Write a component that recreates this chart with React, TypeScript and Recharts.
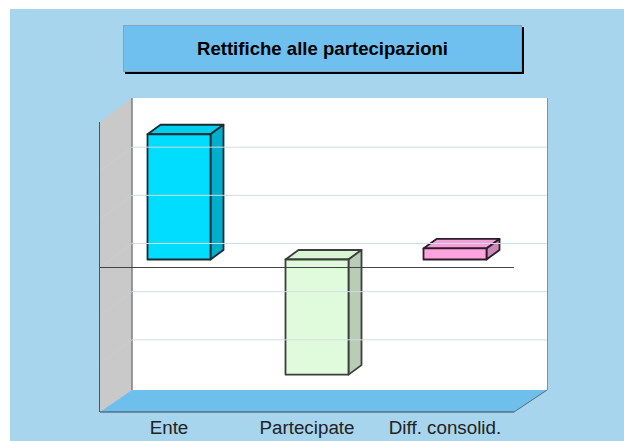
import React from 'react';
import { BarChart, Bar, XAxis, YAxis, ReferenceLine } from 'recharts';

const categories = ['Ente', 'Partecipate', 'Diff. consolid.'];
const values = [2.6, -2.39, 0.23];
const yTicks = [-3, -2, -1, 0, 1, 2, 3];
const gridValues = [-2, -1, 0, 1, 2];

const faceColors = [
  { front: '#00ddff', top: '#00cfee', side: '#00afcc', edge: '#1c2a33' },
  { front: '#e0fbdc', top: '#d8f5d4', side: '#b8ccb6', edge: '#3a3f3a' },
  { front: '#ffa3de', top: '#f59fd8', side: '#cc88b8', edge: '#2a1c28' },
];

const chartData = categories.map((name, i) => ({ name, value: values[i] }));

// bars sit halfway back in the room
const barShiftX = 9.5;
const barShiftY = -8;
const depthX = 13;
const depthY = -9.5;
// back wall offset from the front plane
const wallX = 32;
const wallY = -24;

const Box3D = (props: any) => {
  const { x, y, width, height, index } = props;
  const c = faceColors[index];
  const left = x + barShiftX;
  const right = left + width;
  const top = Math.min(y, y + height) + barShiftY;
  const bottom = Math.max(y, y + height) + barShiftY;
  return (
    <g strokeWidth={1.8} stroke={c.edge} strokeLinejoin="round">
      <polygon
        fill={c.top}
        points={`${left},${top} ${left + depthX},${top + depthY} ${right + depthX},${top + depthY} ${right},${top}`}
      />
      <polygon
        fill={c.side}
        points={`${right},${top} ${right + depthX},${top + depthY} ${right + depthX},${bottom + depthY} ${right},${bottom}`}
      />
      <rect x={left} y={top} width={width} height={bottom - top} fill={c.front} />
    </g>
  );
};

const WallGridLine = (props: any) => {
  const { x1, y1, x2, y2 } = props;
  return (
    <g>
      <line x1={x1} y1={y1} x2={x1 + wallX} y2={y1 + wallY} stroke="#cdcdd2" strokeWidth={1} />
      <line x1={x1 + wallX} y1={y1 + wallY} x2={x2 + wallX + 1} y2={y2 + wallY} stroke="#cfdde4" strokeWidth={1} />
    </g>
  );
};

const Room = () => (
  <svg width={624} height={441} style={{ position: 'absolute', left: 0, top: 0 }}>
    <polygon points="132,98 547,98 547,390 132,390" fill="#ffffff" />
    <polygon points="100,122 132,98 132,390 100,412" fill="#c9c9c9" />
    <polygon points="100,412 132,390 547,390 514,412" fill="#6fbfec" />
    <line x1={99.5} y1={122} x2={99.5} y2={412} stroke="#4a5560" strokeWidth={1} />
    <line x1={132} y1={98} x2={132} y2={390} stroke="#7d7d7d" strokeWidth={1.5} />
    <line x1={547.5} y1={98} x2={547.5} y2={390} stroke="#8a8f96" strokeWidth={1} />
    <line x1={514} y1={412} x2={547} y2={390} stroke="#5b6a78" strokeWidth={1} />
  </svg>
);

export default function App() {
  return (
    <div
      style={{
        position: 'absolute',
        left: 0,
        top: 0,
        width: 624,
        height: 441,
        background: '#ffffff',
        overflow: 'hidden',
      }}
    >
      <div style={{ position: 'absolute', left: 10, top: 9, width: 614, height: 432, background: '#a8d5ee' }} />
      <Room />
      <div
        style={{
          position: 'absolute',
          left: 123,
          top: 25,
          width: 397,
          height: 45,
          background: '#6fc0ee',
          border: '1px solid #7fa6bf',
          boxShadow: '2px 2px 0 #000',
          display: 'flex',
          alignItems: 'center',
          justifyContent: 'center',
          fontFamily: '"Liberation Sans", Arial, sans-serif',
          fontWeight: 'bold',
          fontSize: 18.6,
          color: '#000',
        }}
      >
        Rettifiche alle partecipazioni
      </div>
      <div style={{ position: 'absolute', left: 0, top: 0 }}>
        <BarChart
          width={624}
          height={441}
          data={chartData}
          margin={{ top: 123, right: 110, bottom: 0, left: 100 }}
          barSize={63}
        >
          <XAxis
            dataKey="name"
            axisLine={{ stroke: '#3a4550', strokeWidth: 1 }}
            tickLine={false}
            tick={{ fill: '#222', fontSize: 18.8, fontFamily: '"Liberation Sans", Arial, sans-serif' }}
            tickMargin={3}
            interval={0}
            height={29}
          />
          <YAxis type="number" domain={[-3, 3]} ticks={yTicks} width={0} tick={false} tickLine={false} axisLine={false} />
          {gridValues.map((v) => (
            <ReferenceLine key={v} y={v} shape={WallGridLine} />
          ))}
          <ReferenceLine y={0} stroke="#444" strokeWidth={1} />
          <Bar dataKey="value" isAnimationActive={false} shape={Box3D} />
        </BarChart>
      </div>
    </div>
  );
}
